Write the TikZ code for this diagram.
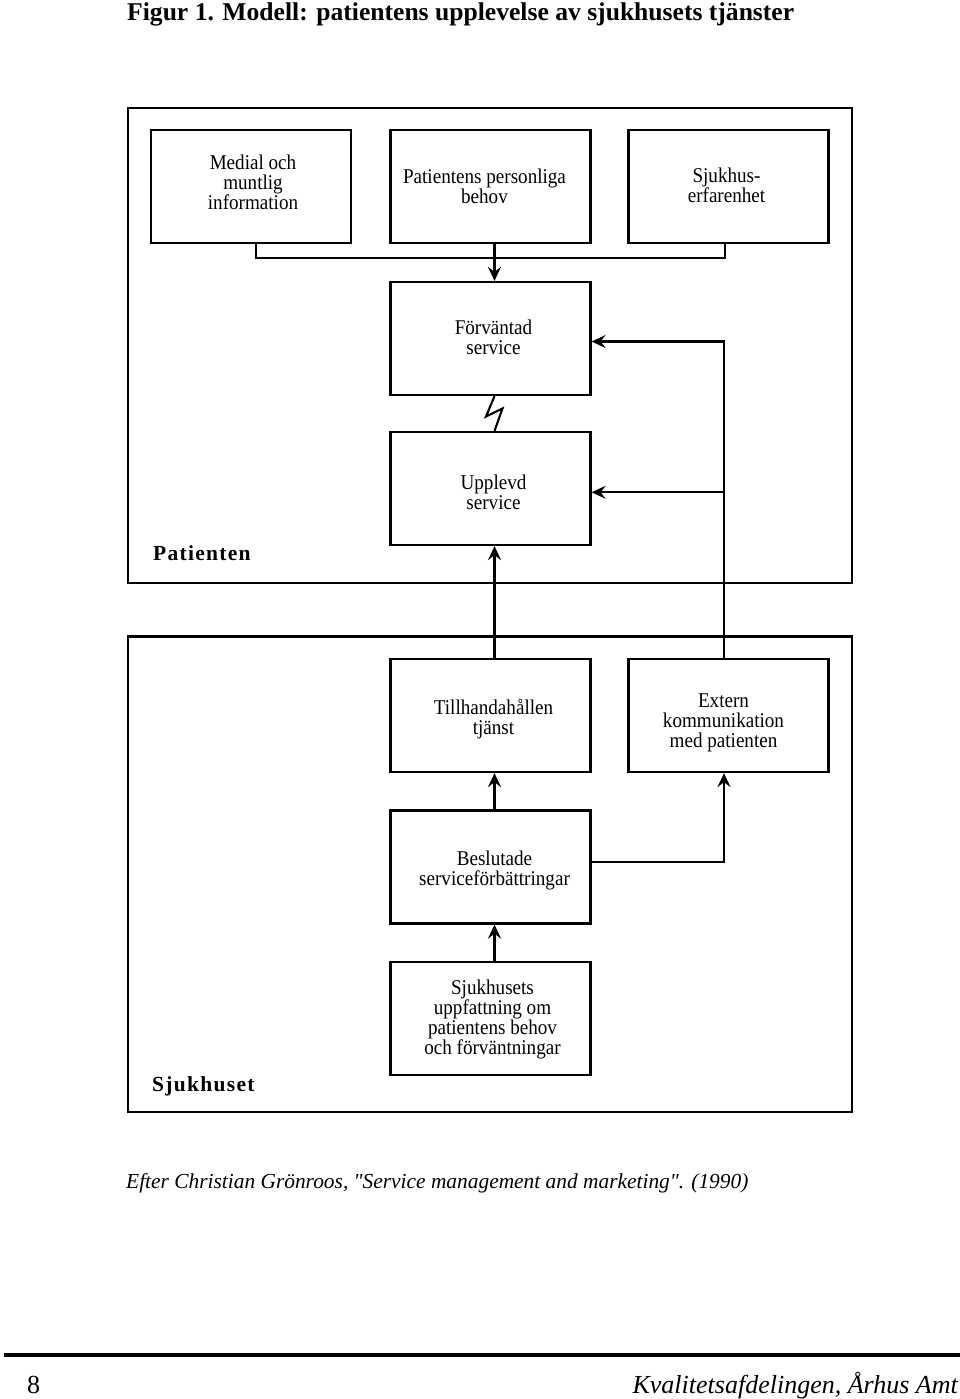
\documentclass[tikz,border=0pt]{standalone}
\usepackage{fontspec}
\setmainfont{Liberation Serif}
\newfontfamily\boxfont{Liberation Serif}[FakeStretch=0.91]
\newfontfamily\lblfont{Liberation Serif}[LetterSpace=6]
\newfontfamily\capfont{Liberation Serif}[Ligatures=TeXOff]
\usetikzlibrary{arrows.meta,calc}
\begin{document}
\begin{tikzpicture}[x=1pt,y=-1pt,
  box/.style={draw,line width=2.2pt,minimum width=200pt,minimum height=113pt,inner sep=0pt},
  boxtxt/.style={inner sep=0pt,align=center,font=\boxfont\fontsize{21}{20}\selectfont},
  frame/.style={draw,line width=2.6pt,inner sep=0pt},
  conn/.style={line width=2.1pt},
  arr/.style={conn,-{Stealth[length=14pt,width=13pt,inset=5pt]}},
  lbl/.style={font=\lblfont\bfseries\fontsize{21.5}{24}\selectfont,anchor=base west,inner sep=0pt}
]
\useasboundingbox (0,0) rectangle (960,1399);

% title
\node[anchor=base west,inner sep=0pt,font=\bfseries\fontsize{25.6}{28}\selectfont] (title) at (127,21) {Figur 1. Modell: patientens upplevelse av sjukhusets tjänster};

% frames
\node[frame,minimum width=724pt,minimum height=475pt] (patframe) at (490,345.5) {};
\node[frame,minimum width=724pt,minimum height=475.5pt] (sjframe) at (490,874.25) {};
\node[lbl] (patlbl) at (153,560) {Patienten};
\node[lbl] (sjlbl) at (152,1091) {Sjukhuset};

% boxes
\node[box] (med) at (251,186.5) {};
\node[box] (beh) at (490.5,186.5) {};
\node[box] (erf) at (728.5,186.5) {};
\node[box] (forv) at (490.5,338.5) {};
\node[box] (uppl) at (490.5,488.5) {};
\node[box] (till) at (490.5,715.5) {};
\node[box] (ext) at (728.5,715.5) {};
\node[box] (besl) at (490.5,867) {};
\node[box] (sjuk) at (490.5,1018.5) {};

% box texts
\node[boxtxt] (medt) at ($(med.center)+(2,-4)$) {Medial och\\muntlig\\information};
\node[boxtxt] (beht) at ($(beh.center)+(-6,0)$) {Patientens personliga\\behov};
\node[boxtxt] (erft) at ($(erf.center)+(-2,-1)$) {Sjukhus-\\erfarenhet};
\node[boxtxt] (forvt) at ($(forv.center)+(3,-1)$) {Förväntad\\service};
\node[boxtxt] (upplt) at ($(uppl.center)+(3,4)$) {Upplevd\\service};
\node[boxtxt] (tillt) at ($(till.center)+(3,4)$) {Tillhandahållen\\tjänst};
\node[boxtxt] (extt) at ($(ext.center)+(-5,7)$) {Extern\\kommunikation\\med patienten};
\node[boxtxt] (beslt) at ($(besl.center)+(4,3)$) {Beslutade\\serviceförbättringar};
\node[boxtxt] (sjukt) at ($(sjuk.center)+(2,1)$) {Sjukhusets\\uppfattning om\\patientens behov\\och förväntningar};

% connectors
\coordinate (jl) at (256,258);
\coordinate (jr) at (725,258);
\coordinate (jm) at (494.5,258);
\draw[conn] (med.south -| jl) -- (jl) -- (jr) -- (erf.south -| jr);
\draw[arr] (beh.south -| jm) -- (forv.north -| jm);

% lightning
\coordinate (z1) at (486,416.5);
\coordinate (z2) at (502.5,408.5);
\draw[conn,line join=miter] (forv.south -| jm) -- (z1) -- (z2) -- (uppl.north -| jm);

% feedback from extern
\coordinate (fbt) at (724,341.5);
\coordinate (fbm) at (724,492.3);
\draw[arr] (ext.north -| fbt) -- (fbt) -- (forv.east |- fbt);
\draw[arr] (fbm) -- (uppl.east |- fbm);

% vertical chain
\draw[arr] (till.north -| jm) -- (uppl.south -| jm);
\draw[arr] (besl.north -| jm) -- (till.south -| jm);
\draw[arr] (sjuk.north -| jm) -- (besl.south -| jm);
\coordinate (be) at (724,862);
\draw[arr] (besl.east |- be) -- (be) -- (ext.south -| be);

% caption
\node[anchor=base west,inner sep=0pt,font=\capfont\itshape\fontsize{21.4}{24}\selectfont] (cap) at (126,1188) {Efter Christian Grönroos, "Service management and marketing". (1990)};

% footer
\coordinate (fl) at (4,1355);
\coordinate (fr) at (960,1355);
\draw[line width=3.5pt] (fl) -- (fr);
\node[anchor=base west,inner sep=0pt,font=\fontsize{26}{28}\selectfont] (pg) at (27,1393) {8};
\node[anchor=base east,inner sep=0pt,font=\itshape\fontsize{26}{28}\selectfont] (org) at (958,1393) {Kvalitetsafdelingen, Århus Amt};
\end{tikzpicture}
\end{document}
